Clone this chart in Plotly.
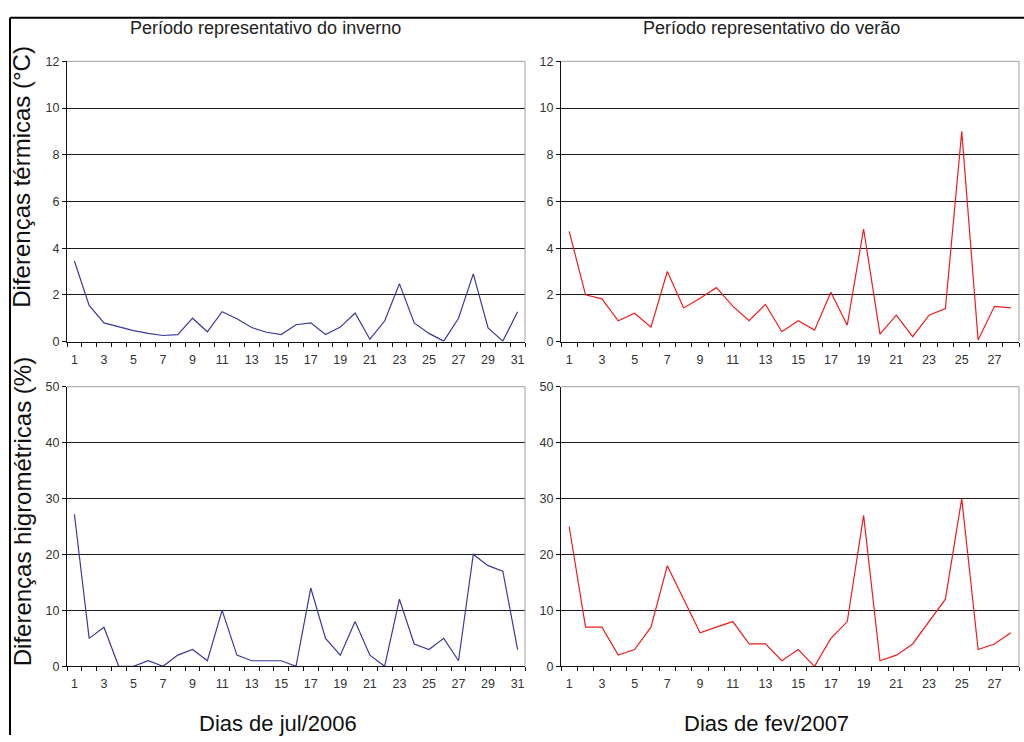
import plotly.graph_objects as go

# ---- data ----
dias_jul = list(range(1, 32))
dias_fev = list(range(1, 29))
x_labels_jul = [str(d) for d in range(1, 32, 2)]
x_labels_fev = [str(d) for d in range(1, 29, 2)]

temp_inverno = [3.45, 1.55, 0.8, 0.62, 0.47, 0.35, 0.26, 0.3, 1.0, 0.42, 1.28, 0.98, 0.6, 0.4, 0.3,
                0.72, 0.8, 0.3, 0.62, 1.22, 0.1, 0.88, 2.48, 0.8, 0.35, 0.02, 1.0, 2.9, 0.58, 0.02, 1.28]
temp_verao = [4.72, 2.0, 1.83, 0.89, 1.21, 0.62, 3.0, 1.44, 1.85, 2.31, 1.52, 0.89, 1.59, 0.42,
              0.89, 0.49, 2.11, 0.70, 4.82, 0.32, 1.13, 0.21, 1.13, 1.41, 9.0, 0.07, 1.51, 1.44]
umid_inverno = [27.2, 5, 7, 0, 0, 1, 0, 2, 3, 1, 10, 2, 1, 1, 1, 0, 14, 5, 2, 8, 2, 0, 12, 4, 3, 5,
                1, 20, 18, 17, 3]
umid_verao = [25, 7, 7, 2, 3, 7, 18, 12, 6, 7, 8, 4, 4, 1, 3, 0, 5, 8, 27, 1, 2, 4, 8, 12, 30, 3, 4, 6]

temp_ticks = [0, 2, 4, 6, 8, 10, 12]
umid_ticks = [0, 10, 20, 30, 40, 50]

titulo_inv = "Período representativo do inverno"
titulo_ver = "Período representativo do verão"
ytit_temp = "Diferenças térmicas (°C)"
ytit_umid = "Diferenças higrométricas (%)"
xtit_jul = "Dias de jul/2006"
xtit_fev = "Dias de fev/2007"

COR_INV = "#3a3a9a"
COR_VER = "#ee1c1c"

W, H = 1024, 742
def px(v): return v / W
def py(v): return 1 - v / H

fig = go.Figure()
fig.add_trace(go.Scatter(x=dias_jul, y=temp_inverno, mode="lines", line=dict(color=COR_INV, width=1.2),
                         xaxis="x", yaxis="y", showlegend=False))
fig.add_trace(go.Scatter(x=dias_fev, y=temp_verao, mode="lines", line=dict(color=COR_VER, width=1.2),
                         xaxis="x2", yaxis="y2", showlegend=False))
fig.add_trace(go.Scatter(x=dias_jul, y=umid_inverno, mode="lines", line=dict(color=COR_INV, width=1.2),
                         xaxis="x3", yaxis="y3", showlegend=False))
fig.add_trace(go.Scatter(x=dias_fev, y=umid_verao, mode="lines", line=dict(color=COR_VER, width=1.2),
                         xaxis="x4", yaxis="y4", showlegend=False))

font_tick = dict(family="Liberation Sans, Arial", size=12.5, color="#333333")

def xaxis_cfg(n, dom, anchor, labels):
    return dict(domain=dom, anchor=anchor, range=[0.5, n + 0.5],
                tickmode="array", tickvals=[int(l) for l in labels], ticktext=labels,
                ticks="", showgrid=False, zeroline=False,
                showline=True, linecolor="#111111", linewidth=1,
                tickfont=font_tick, ticklabelstandoff=6,
                minor=dict(tickmode="array", tickvals=[i + 0.5 for i in range(0, n + 1)],
                           ticks="outside", ticklen=4, tickcolor="#111111", tickwidth=1, showgrid=False))

def yaxis_cfg(dom, anchor, ticks):
    return dict(domain=dom, anchor=anchor, range=[ticks[0], ticks[-1]],
                tickmode="array", tickvals=ticks,
                ticks="outside", ticklen=4, tickcolor="#111111",
                showgrid=True, gridcolor="#1a1a1a", gridwidth=1, zeroline=False,
                showline=True, linecolor="#111111", linewidth=1,
                tickfont=font_tick)

xl = [px(67), px(525)]
xr = [px(561), px(1019)]
yt = [py(341), py(55.4)]
yb = [py(672), py(387)]

fig.update_layout(
    width=W, height=H, margin=dict(l=0, r=0, t=0, b=0),
    paper_bgcolor="white", plot_bgcolor="white",
    xaxis=xaxis_cfg(31, xl, "y", x_labels_jul),
    xaxis2=xaxis_cfg(28, xr, "y2", x_labels_fev),
    xaxis3=xaxis_cfg(31, xl, "y3", x_labels_jul),
    xaxis4=xaxis_cfg(28, xr, "y4", x_labels_fev),
    yaxis=yaxis_cfg(yt, "x", temp_ticks),
    yaxis2=yaxis_cfg(yt, "x2", temp_ticks),
    yaxis3=yaxis_cfg(yb, "x3", umid_ticks),
    yaxis4=yaxis_cfg(yb, "x4", umid_ticks),
)

shapes = []
# gray plot-area border (top and right edges)
for xa, ya in [("x", "y"), ("x2", "y2"), ("x3", "y3"), ("x4", "y4")]:
    shapes.append(dict(type="line", xref=f"{xa} domain", yref=f"{ya} domain", x0=0, x1=1, y0=1, y1=1,
                       line=dict(color="#a0a0a0", width=1), layer="above"))
    shapes.append(dict(type="line", xref=f"{xa} domain", yref=f"{ya} domain", x0=1, x1=1, y0=0, y1=1,
                       line=dict(color="#a0a0a0", width=1), layer="above"))
# outer frame
shapes.append(dict(type="line", xref="paper", yref="paper", x0=px(10), x1=1, y0=py(11), y1=py(11),
                   line=dict(color="black", width=2)))
shapes.append(dict(type="line", xref="paper", yref="paper", x0=px(10), x1=px(10), y0=0, y1=py(11),
                   line=dict(color="black", width=2)))
fig.update_layout(shapes=shapes)

font_title = dict(family="Liberation Sans, Arial", size=18, color="#222222")
font_ytit = dict(family="Liberation Sans, Arial", size=24, color="#111111")
font_xtit = dict(family="Liberation Sans, Arial", size=22, color="#111111")
ann = [
    dict(text=titulo_inv, x=px(265), y=py(21), font=font_title),
    dict(text=titulo_ver, x=px(771), y=py(21), font=font_title),
    dict(text=ytit_temp, x=px(22), y=py(173), font=font_ytit, textangle=-90),
    dict(text=ytit_umid, x=px(22), y=py(515), font=font_ytit, textangle=-90),
    dict(text=xtit_jul, x=px(278), y=py(730), font=font_xtit),
    dict(text=xtit_fev, x=px(766), y=py(730), font=font_xtit),
]
for a in ann:
    a.update(xref="paper", yref="paper", showarrow=False, xanchor="center", yanchor="middle")
fig.update_layout(annotations=ann)

fig.write_html("out.html")
